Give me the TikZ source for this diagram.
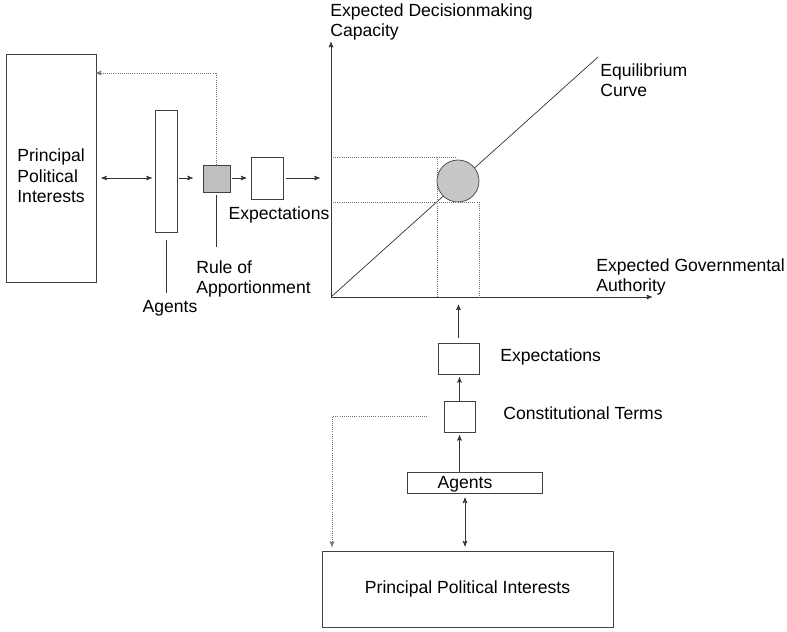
\documentclass[tikz,border=0pt]{standalone}
\usepackage{fontspec}
\setmainfont{Liberation Sans}
\usetikzlibrary{arrows}

\tikzset{
    box/.style={draw=black!75, line width=0.5pt, inner sep=0pt},
    lbl/.style={inner sep=0pt, align=left, font=\fontsize{12.5}{14.5}\selectfont},
    guide/.style={densely dotted, black!55},
}

\begin{document}
\begin{tikzpicture}[x=0.025cm, y=-0.025cm, >=stealth', line width=0.5pt, draw=black!80]
    \useasboundingbox (0,0) rectangle (787,631);
    % left column: interests, agents, rule, expectations
    \node[box, minimum width=2.25cm, minimum height=5.7cm] (pil) at (51,168) {};
    \node[lbl, anchor=west] (piltxt) at (17,176) {Principal\\Political\\Interests};
    \node[box, minimum width=0.55cm, minimum height=3.05cm] (agl) at (166,171) {};
    \node[box, fill=black!25, minimum size=0.675cm] (rule) at (216.5,178.5) {};
    \node[box, minimum width=0.8cm, minimum height=1.05cm] (expl) at (267,178) {};
    \coordinate (row) at (0,178);
    \coordinate (back) at (96,73);
    \coordinate (agtick) at (166,293);
    \coordinate (ruletick) at (216.5,247);
    \draw[<->, shorten <=3.5pt, shorten >=2pt] (pil.east |- row) -- (agl.west |- row);
    \draw[->, shorten <=1.5pt, shorten >=7pt] (agl.east |- row) -- (rule.west |- row);
    \draw[->, shorten <=1pt, shorten >=3pt] (rule.east |- row) -- (expl.west |- row);
    \draw[guide, ->] (rule.north) |- (back);
    \draw[shorten <=5.5pt] (agl.south) -- (agtick);
    \draw[shorten <=2pt] (rule.south) -- (ruletick);
    \node[lbl] (agltxt) at (170,308) {Agents};
    \node[lbl, anchor=west] (ruletxt) at (196,279) {Rule of\\Apportionment};
    \node[lbl] (expltxt) at (279,215) {Expectations};
    % the chart
    \coordinate (o) at (331,297);
    \coordinate (ytop) at (331,42);
    \coordinate (xend) at (652,297);
    \coordinate (eqend) at (598,57);
    \draw[->, shorten <=2pt, shorten >=8pt] (expl.east |- row) -- (o |- row);
    \draw[->] (o) -- (ytop);
    \draw[->] (o) -- (xend);
    \draw (o) -- (eqend);
    \foreach \a/\b/\c/\d in {331/157/457/157, 437/157/437/297, 331/202/479/202, 479/202/479/297}
    {
    \draw[guide] (\a,\b) -- (\c,\d);
    }
    \node[box, circle, fill=black!22, minimum size=1.05cm] (eq) at (458,181) {};
    \node[lbl, anchor=west] (ylbl) at (330,22) {Expected Decisionmaking\\Capacity};
    \node[lbl, anchor=west] (eqlbl) at (600,80) {Equilibrium\\Curve};
    \node[lbl, anchor=west] (xlbl) at (596,277) {Expected Governmental\\Authority};
    % bottom column
    \node[box, minimum width=1.025cm, minimum height=0.775cm] (expb) at (458.5,358.5) {};
    \node[lbl, anchor=west] (expbtxt) at (500,357) {Expectations};
    \node[box, minimum size=0.775cm] (con) at (459.5,416.5) {};
    \node[lbl, anchor=west] (contxt) at (503,413) {Constitutional Terms};
    \node[box, minimum width=3.375cm, minimum height=0.525cm] (agb) at (474.5,482.5) {};
    \node[lbl] (agbtxt) at (465,484) {Agents};
    \node[box, minimum width=7.275cm, minimum height=1.9cm, font=\fontsize{12.5}{14.5}\selectfont] (pib) at (467.5,589) {Principal Political Interests};
    \coordinate (dl) at (332,551);
    \draw[->, shorten <=3.5pt, shorten >=5.5pt] (expb.north) -- (expb.north |- o);
    \draw[->, shorten >=2pt] (con.north) -- (con.north |- expb.south);
    \draw[->, shorten >=2pt] (agb.north -| con.south) -- (con.south);
    \draw[<->, shorten <=3pt, shorten >=3pt] (agb.south -| agbtxt) -- (pib.north -| agbtxt);
    \draw[guide, ->, shorten <=12pt, shorten >=3pt] (con.west) -| (dl);
\end{tikzpicture}
\end{document}
